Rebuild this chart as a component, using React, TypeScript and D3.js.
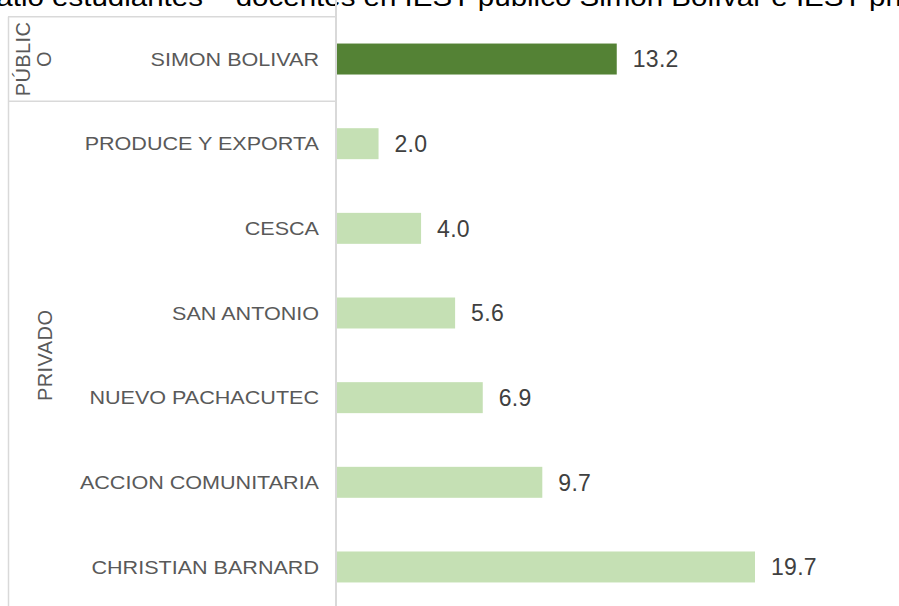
import React, { useEffect, useRef } from "react";
import * as d3 from "d3";

const titleText = "Ratio estudiantes – docentes en IEST público Simón Bolívar e IEST privados";
const categories = [
  "SIMON BOLIVAR",
  "PRODUCE Y EXPORTA",
  "CESCA",
  "SAN ANTONIO",
  "NUEVO PACHACUTEC",
  "ACCION COMUNITARIA",
  "CHRISTIAN BARNARD",
];
const values = [13.2, 2.0, 4.0, 5.6, 6.9, 9.7, 19.7];
const groups = ["PÚBLICO", "PRIVADO", "PRIVADO", "PRIVADO", "PRIVADO", "PRIVADO", "PRIVADO"];

export default function App() {
  const ref = useRef<SVGSVGElement>(null);

  useEffect(() => {
    const svg = d3.select(ref.current);
    svg.selectAll("*").remove();

    const w = 899, h = 606;
    const left = 336;
    const font = "'Liberation Sans', Arial, sans-serif";
    const stretch = 1.135; // the source picture is a bit wider than tall

    const y = d3.scaleBand()
      .domain(categories)
      .range([16.7, 609.3])
      .paddingInner(0.634)
      .paddingOuter(0.317);

    const x = d3.scaleLinear().domain([0, 19.7]).range([left, 755]);

    const data = categories.map((c, i) => ({ c, v: values[i], g: groups[i] }));

    // title, cut off at the top
    svg.append("text")
      .attr("transform", `translate(-25,6) scale(${stretch},1)`)
      .style("font-family", font)
      .style("font-size", "26px")
      .attr("fill", "#000")
      .text(titleText);

    const grid = "#d9d9d9";
    // table frame on the left
    const groupNames = Array.from(new Set(groups));
    const bounds = groupNames.map(g => {
      const cats = data.filter(d => d.g === g).map(d => d.c);
      const step = y.step();
      const top = y(cats[0])! - (step - y.bandwidth()) / 2;
      const bottom = y(cats[cats.length - 1])! + y.bandwidth() + (step - y.bandwidth()) / 2;
      return { g, top, bottom };
    });

    bounds.forEach(b => {
      svg.append("line")
        .attr("x1", 8).attr("x2", left)
        .attr("y1", b.top).attr("y2", b.top)
        .attr("stroke", grid).attr("stroke-width", 1.5);
    });
    svg.append("line")
      .attr("x1", 8.5).attr("x2", 8.5)
      .attr("y1", bounds[0].top).attr("y2", h)
      .attr("stroke", grid).attr("stroke-width", 1.5);

    // group labels (rotated)
    bounds.forEach(b => {
      const cy = (b.top + b.bottom) / 2;
      const lines = b.g === "PÚBLICO" ? ["PÚBLIC", "O"] : [b.g];
      const x0 = lines.length === 2 ? 30 : 52;
      lines.forEach((t, i) => {
        const lx = x0 + i * 21;
        svg.append("text")
          .attr("transform", `translate(${lx},${cy}) rotate(-90)`)
          .attr("text-anchor", "middle")
          .style("font-family", font)
          .style("font-size", "20px")
          .style("letter-spacing", "0.4px")
          .attr("fill", "#595959")
          .text(t);
      });
    });

    // bars
    svg.selectAll("rect.bar")
      .data(data)
      .join("rect")
      .attr("class", "bar")
      .attr("x", x(0))
      .attr("y", d => y(d.c)!)
      .attr("width", d => x(d.v) - x(0))
      .attr("height", y.bandwidth())
      .attr("fill", d => d.g === "PÚBLICO" ? "#548235" : "#c5e0b4");

    // axis line
    svg.append("line")
      .attr("x1", left).attr("x2", left)
      .attr("y1", 0).attr("y2", h)
      .attr("stroke", grid).attr("stroke-width", 2);

    // category labels
    svg.selectAll("text.cat")
      .data(data)
      .join("text")
      .attr("class", "cat")
      .attr("transform", d => `translate(319,${y(d.c)! + y.bandwidth() / 2}) scale(${stretch},1)`)
      .attr("dy", "0.35em")
      .attr("text-anchor", "end")
      .style("font-family", font)
      .style("font-size", "19px")
      .attr("fill", "#595959")
      .text(d => d.c);

    // value labels
    svg.selectAll("text.val")
      .data(data)
      .join("text")
      .attr("class", "val")
      .attr("x", d => x(d.v) + 16)
      .attr("y", d => y(d.c)! + y.bandwidth() / 2)
      .attr("dy", "0.36em")
      .style("font-family", font)
      .style("font-size", "23px")
      .style("letter-spacing", "0.3px")
      .attr("fill", "#404040")
      .text(d => d.v.toFixed(1));

    svg.attr("width", w).attr("height", h);
  }, []);

  return (
    <svg
      ref={ref}
      width={899}
      height={606}
      style={{ position: "absolute", left: 0, top: 0, background: "#fff" }}
    />
  );
}
